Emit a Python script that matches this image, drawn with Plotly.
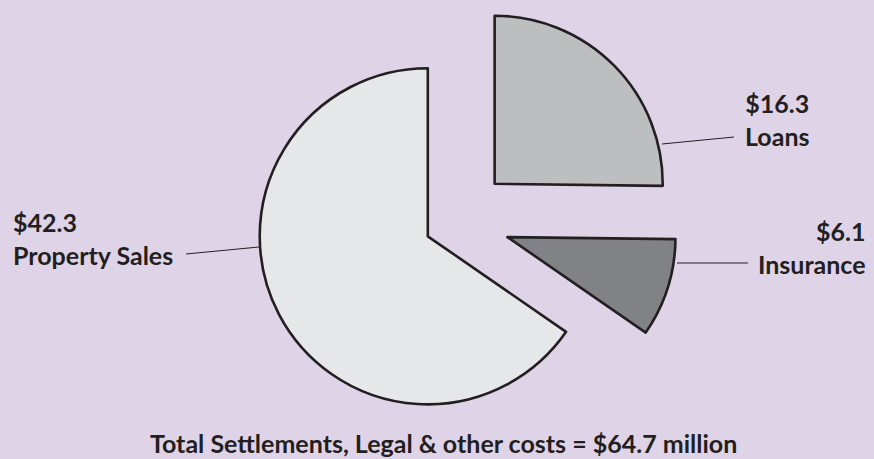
import plotly.graph_objects as go

categories = ["Loans", "Insurance", "Property Sales"]
values = [16.3, 6.1, 42.3]
value_labels = ["$16.3", "$6.1", "$42.3"]
total_label = "Total Settlements, Legal & other costs = $64.7 million"

W, H = 874, 459
BG = "#DFD3E8"
INK = "#231F20"
colors = ["#BCBEC0", "#808285", "#E6E7E8"]
pulls = [0.315, 0.315, 0.196]

fig = go.Figure(go.Pie(
    labels=categories,
    values=values,
    sort=False,
    direction="clockwise",
    rotation=0,
    pull=pulls,
    marker=dict(colors=colors, line=dict(color=INK, width=2.6)),
    textinfo="none",
    hoverinfo="label+value",
    showlegend=False,
    domain=dict(x=[0.2368, 0.8089], y=[0.037, 1.0]),
))

def px(x):
    return x / W

def py(y):
    return 1 - y / H

font = dict(family="Lato, 'DejaVu Sans', sans-serif", size=25, color=INK)

annotations = [
    dict(x=px(777), y=py(119.5), text=f"<b>{value_labels[0]}</b><br><b>{categories[0]}</b>",
         xanchor="center", yanchor="middle", align="center"),
    dict(x=px(868), y=py(247), text=f"<b>{value_labels[1]}</b><br><b>{categories[1]}</b>",
         xanchor="right", yanchor="middle", align="right"),
    dict(x=px(11), y=py(238.5), text=f"<b>{value_labels[2]}</b><br><b>{categories[2]}</b>",
         xanchor="left", yanchor="middle", align="left"),
    dict(x=px(443), y=py(443), text=f"<b>{total_label}</b>",
         xanchor="center", yanchor="middle", align="center"),
]
for a in annotations:
    a.update(xref="paper", yref="paper", showarrow=False, font=font)

leaders = [
    ((662, 144), (734, 137)),
    ((677, 263), (748, 263)),
    ((186, 254), (259, 247)),
]
shapes = [
    dict(type="line", xref="paper", yref="paper",
         x0=px(a[0]), y0=py(a[1]), x1=px(b[0]), y1=py(b[1]),
         line=dict(color=INK, width=1))
    for a, b in leaders
]

fig.update_layout(
    width=W, height=H,
    margin=dict(l=0, r=0, t=0, b=0),
    paper_bgcolor=BG,
    plot_bgcolor=BG,
    annotations=annotations,
    shapes=shapes,
)

fig.write_html(
    "out.html",
    config={"displayModeBar": False},
    post_script="document.body.style.margin='0';document.body.style.overflow='hidden';",
)
